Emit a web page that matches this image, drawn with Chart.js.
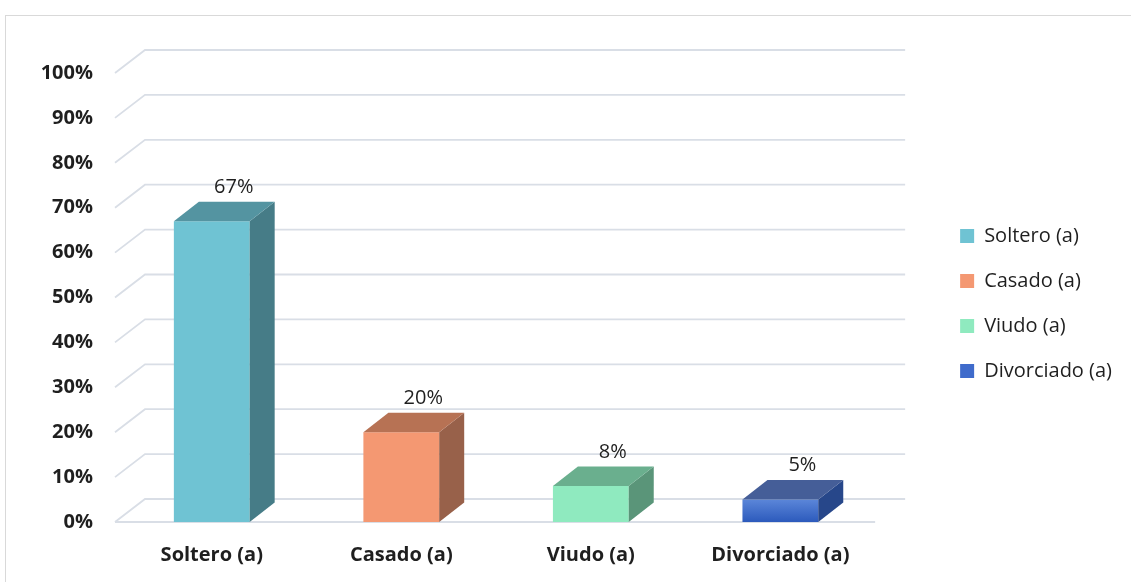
<!DOCTYPE html>
<html>
<head>
<meta charset="utf-8">
<script src="https://cdn.jsdelivr.net/npm/chart.js@4.4.1/dist/chart.umd.min.js"></script>
<style>
  html, body { margin: 0; padding: 0; background: #fff; }
  canvas { display: block; }
</style>
</head>
<body>
<canvas id="estadoCivilChart" width="1131" height="582"></canvas>
<script>
// data
const categories = ['Soltero (a)', 'Casado (a)', 'Viudo (a)', 'Divorciado (a)'];
const percentages = [67, 20, 8, 5];
const yTicks = [0, 10, 20, 30, 40, 50, 60, 70, 80, 90, 100];

// face colours (front / top / right side)
const frontColors = ['#6fc3d3', '#f49872', '#8feabf', '#3f6bcb'];
const topColors = ['#5494a1', '#b77254', '#6aaf8e', '#455e98'];
const sideColors = ['#467c87', '#98614a', '#5a9579', '#27478a'];

const DEPTH_X = 25, DEPTH_Y = -19.5;  // bar depth
const WALL_X = 30, WALL_Y = -23;      // gridline depth
const FONT = '"Open Sans", Lato, sans-serif';
const GRID = '#d9dee6';
const TEXT = '#1f1f1f';

const bars3d = {
    id: 'bars3d',
    beforeDraw(chart) {
        const c = chart.ctx;
        c.save();
        c.strokeStyle = '#d9d9d9';
        c.lineWidth = 1;
        c.strokeRect(5.5, 15.5, chart.width + 20, chart.height + 20);
        c.restore();
    },
    beforeDatasetsDraw(chart) {
        const c = chart.ctx, area = chart.chartArea, y = chart.scales.y;
        c.save();
        c.strokeStyle = GRID;
        c.lineWidth = 1.8;
        yTicks.forEach(v => {
            const py = y.getPixelForValue(v);
            c.beginPath();
            c.moveTo(area.left - 2, py);
            c.lineTo(area.left - 2 + WALL_X, py + WALL_Y);
            c.lineTo(area.right + WALL_X, py + WALL_Y);
            if (v === 0) {
                c.moveTo(area.left - 2, py);
                c.lineTo(area.right, py);
            }
            c.stroke();
        });
        c.restore();
    },
    afterDatasetsDraw(chart) {
        const c = chart.ctx;
        const meta = chart.getDatasetMeta(0);
        c.save();
        meta.data.forEach((bar, i) => {
            const left = bar.x - bar.width / 2, right = bar.x + bar.width / 2;
            const top = bar.y, base = bar.base;
            // side
            c.fillStyle = sideColors[i];
            c.beginPath();
            c.moveTo(right, top);
            c.lineTo(right + DEPTH_X, top + DEPTH_Y);
            c.lineTo(right + DEPTH_X, base + DEPTH_Y);
            c.lineTo(right, base);
            c.closePath();
            c.fill();
            // top
            c.fillStyle = topColors[i];
            c.beginPath();
            c.moveTo(left, top);
            c.lineTo(left + DEPTH_X, top + DEPTH_Y);
            c.lineTo(right + DEPTH_X, top + DEPTH_Y);
            c.lineTo(right, top);
            c.closePath();
            c.fill();
            // value label
            c.fillStyle = TEXT;
            c.font = '20px ' + FONT;
            c.textAlign = 'center';
            c.textBaseline = 'middle';
            c.fillText(percentages[i] + '%', bar.x + 22, top - 34);
        });
        c.restore();
    }
};

new Chart(document.getElementById('estadoCivilChart'), {
    type: 'bar',
    data: {
        labels: categories,
        datasets: [{
            data: percentages,
            barPercentage: 0.4,
            categoryPercentage: 1,
            borderWidth: 0,
            backgroundColor(ctx) {
                const i = ctx.dataIndex;
                if (i !== 3) return frontColors[i];
                const y = ctx.chart.scales.y;
                if (!y) return frontColors[i];
                const y0 = y.getPixelForValue(percentages[i]);
                const y1 = y.getPixelForValue(0);
                if (!isFinite(y0) || !isFinite(y1) || y0 === y1) return frontColors[i];
                const g = ctx.chart.ctx.createLinearGradient(0, y0, 0, y1);
                g.addColorStop(0, '#5b86d9');
                g.addColorStop(1, '#2c5abc');
                return g;
            }
        }]
    },
    options: {
        responsive: false,
        animation: false,
        layout: { padding: { top: 73, left: 0, right: 9, bottom: 0 } },
        scales: {
            x: {
                grid: { display: false, drawTicks: false },
                border: { display: false },
                ticks: { color: TEXT, font: { family: FONT, size: 20, weight: 'bold' }, padding: 21 },
                afterFit(s) { s.height = 60; }
            },
            y: {
                min: 0,
                max: 100,
                grid: { display: false, drawTicks: false },
                border: { display: false },
                ticks: {
                    stepSize: 10,
                    color: TEXT,
                    font: { family: FONT, size: 20, weight: 'bold' },
                    padding: 24,
                    callback: v => v + '%'
                },
                afterFit(s) { s.width = 117; }
            },
            spacer: {
                type: 'linear',
                position: 'right',
                grid: { display: false, drawTicks: false },
                border: { display: false },
                ticks: { display: false },
                afterFit(s) { s.width = 60; }
            }
        },
        plugins: {
            tooltip: { enabled: false },
            legend: {
                position: 'right',
                fullSize: false,
                title: { display: true, text: '', font: { size: 1 }, padding: { top: 6, bottom: 5 } },
                labels: {
                    boxWidth: 14,
                    boxHeight: 14,
                    padding: 25,
                    color: TEXT,
                    font: { family: FONT, size: 20 },
                    generateLabels: () => categories.map((name, i) => ({
                        text: name,
                        fillStyle: frontColors[i],
                        strokeStyle: frontColors[i],
                        fontColor: TEXT,
                        lineWidth: 0,
                        hidden: false,
                        index: i
                    }))
                }
            }
        }
    },
    plugins: [bars3d]
});
</script>
</body>
</html>
